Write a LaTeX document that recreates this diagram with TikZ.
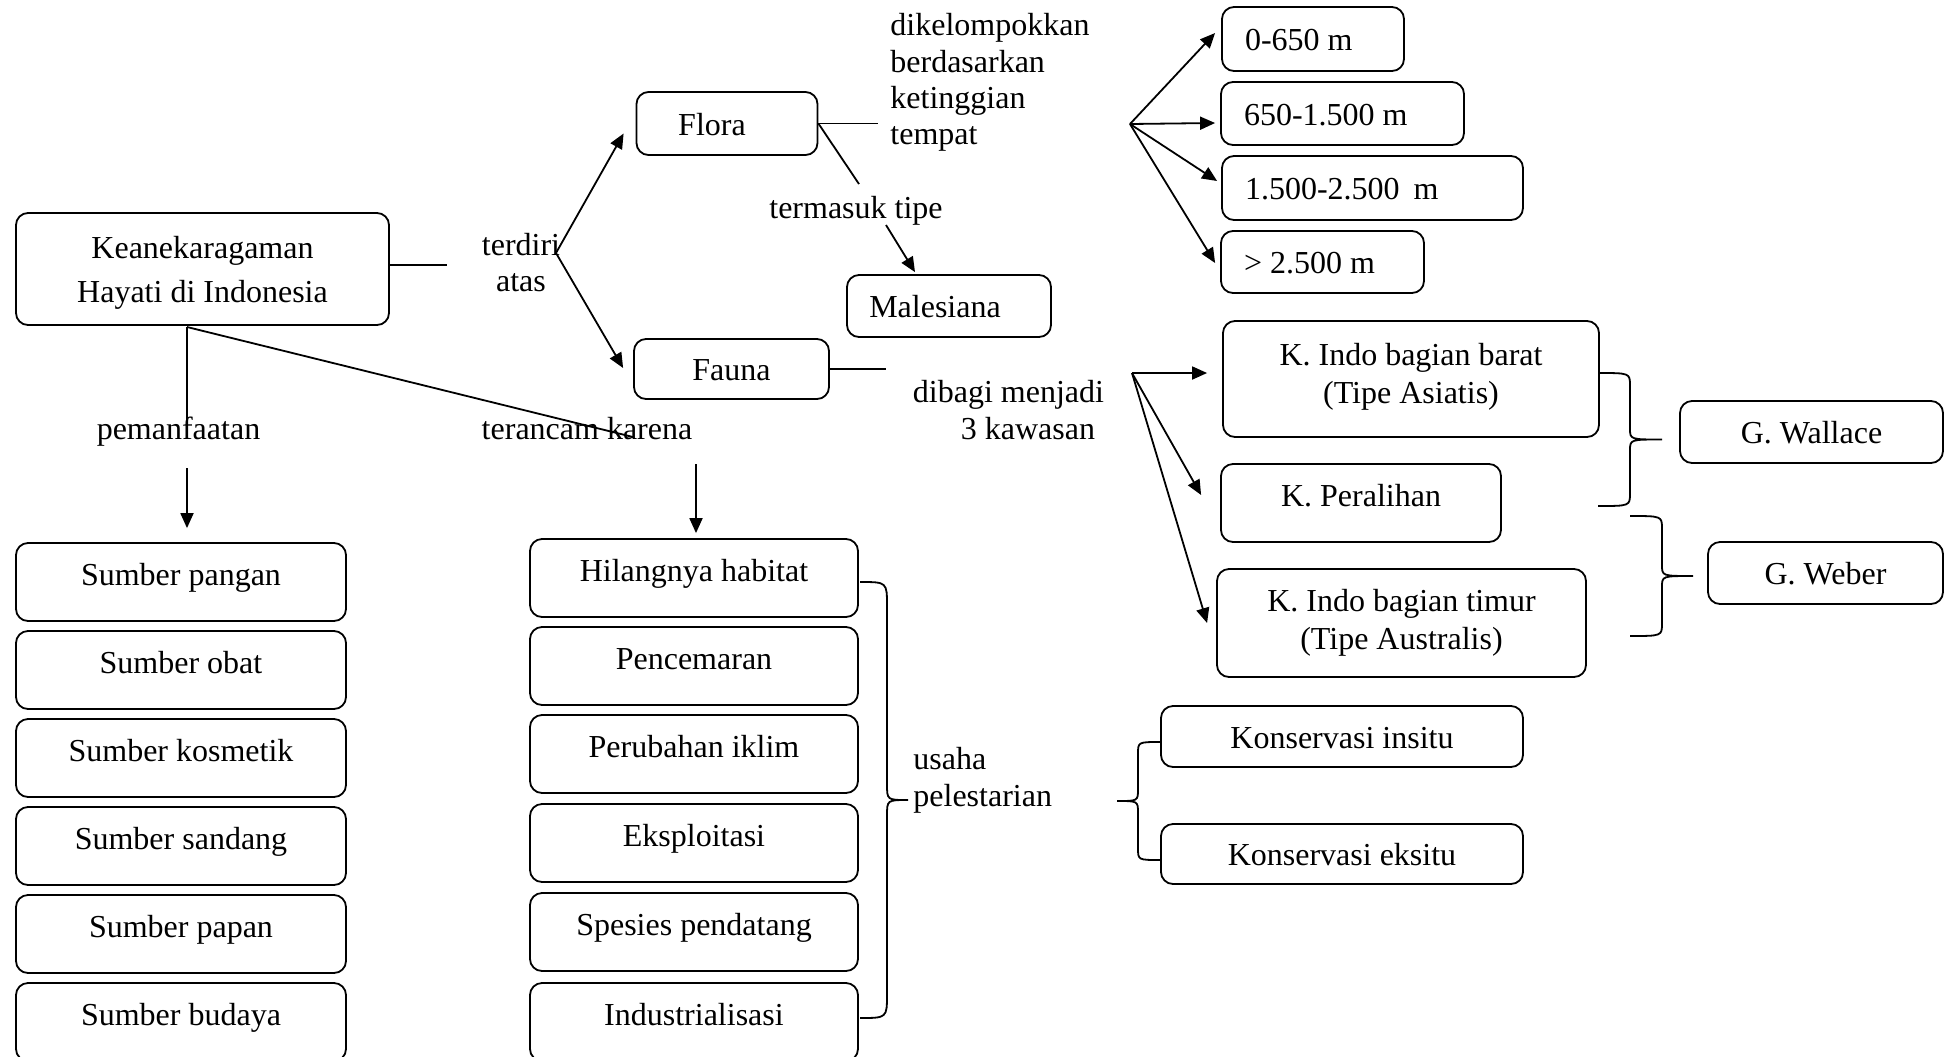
\documentclass[tikz,border=0pt]{standalone}
\usepackage{fontspec}
\setmainfont{Liberation Serif}
\usetikzlibrary{arrows.meta,calc}

% curly brace: #1 end x, #2 spine x, #3 tip x, #4 top y, #5 bottom y,
% #6 end curve length, #7 tip curve length
\newcommand\bracepath[7]{%
  \draw[ln] (#1,#4) .. controls (#2,#4) .. (#2,{#4+#6})
    -- (#2,{(#4+#5)/2-#7}) .. controls (#2,{(#4+#5)/2}) .. (#3,{(#4+#5)/2})
    .. controls (#2,{(#4+#5)/2}) .. (#2,{(#4+#5)/2+#7})
    -- (#2,{#5-#6}) .. controls (#2,#5) .. (#1,#5);}

\begin{document}
\begin{tikzpicture}[x=0.5pt,y=-0.5pt,
  every node/.style={font=\fontsize{16}{18.4}\selectfont},
  ln/.style={line width=0.9pt},
  arr/.style={ln, -{Triangle[length=7.5pt,width=6.5pt]}},
  box/.style={draw, line width=0.9pt, rounded corners=6pt, inner sep=0pt},
  sz/.style 2 args={minimum width=#1*0.5pt, minimum height=#2*0.5pt},
  % single-line text: baseline a little below the middle
  lowA/.style={text height=9.6pt, text depth=6.4pt},
  % single-line text: baseline well below the middle
  lowB/.style={text height=13.8pt, text depth=2.2pt},
  lbox/.style={box, lowB, align=flush left, inner xsep=11.5pt},
  lbl/.style={inner sep=0pt},
]
\useasboundingbox (0,0) rectangle (1945,1056);

% main topic
\node[box, sz={373}{112}, align=center, font=\fontsize{16}{22}\selectfont] (kh) at (202.5,269) {\rule{0pt}{15.4pt}Keanekaragaman\\Hayati di Indonesia};

% flora / fauna
\node[box, lowB, sz={181}{63}] (flora) at (727,123.5) {Flora\kern15pt};
\node[box, lowB, sz={195}{60}] (fauna) at (731.5,369) {Fauna};
\node[box, lowB, sz={204}{62}] (malesiana) at (949,306) {Malesiana\kern14pt};

% altitude zones
\node[lbox, text width=68pt, minimum height=32pt] (h1) at (1313,39) {0-650 m};
\node[lbox, text width=98.5pt, minimum height=31.5pt] (h2) at (1342.5,113.5) {650-1.500 m};
\node[lbox, text width=127.5pt, minimum height=32pt] (h3) at (1372.5,188) {1.500-2.500\ \kern3pt m};
\node[lbox, text width=78.5pt, minimum height=31pt] (h4) at (1322.5,262) {> 2.500 m};

% fauna regions
\node[box, sz={376}{116}, align=center, font=\fontsize{16}{19}\selectfont] (kb) at (1411,379) {K. Indo bagian barat\\(Tipe Asiatis)\rule[-6pt]{0pt}{6pt}};
\node[box, lowA, sz={280}{78}] (kp) at (1361,503) {K. Peralihan};
\node[box, sz={369}{108}, align=center, font=\fontsize{16}{19}\selectfont] (kt) at (1401.5,623) {K. Indo bagian timur\\(Tipe Australis)};
\node[box, lowB, sz={263}{62}] (gw) at (1811.5,432) {G. Wallace};
\node[box, lowB, sz={235}{62}] (gwe) at (1825.5,573) {G. Weber};

% conservation
\node[box, lowB, sz={362}{61}] (ki) at (1342,736.5) {Konservasi insitu};
\node[box, lowB, sz={362}{60}] (ke) at (1342,854) {Konservasi eksitu};

% uses
\node[box, lowA, sz={330}{78}] (sp1) at (181,582) {Sumber pangan};
\node[box, lowA, sz={330}{78}] (sp2) at (181,670) {Sumber obat};
\node[box, lowA, sz={330}{78}] (sp3) at (181,758) {Sumber kosmetik};
\node[box, lowA, sz={330}{78}] (sp4) at (181,846) {Sumber sandang};
\node[box, lowA, sz={330}{78}] (sp5) at (181,934) {Sumber papan};
\node[box, lowA, sz={330}{78}] (sp6) at (181,1022) {Sumber budaya};

% threats
\node[box, lowA, sz={328}{78}] (hb1) at (694,578) {Hilangnya habitat};
\node[box, lowA, sz={328}{78}] (hb2) at (694,666) {Pencemaran};
\node[box, lowA, sz={328}{78}] (hb3) at (694,754) {Perubahan iklim};
\node[box, lowA, sz={328}{78}] (hb4) at (694,843) {Eksploitasi};
\node[box, lowA, sz={328}{78}] (hb5) at (694,932) {Spesies pendatang};
\node[box, lowA, sz={328}{78}] (hb6) at (694,1022) {Industrialisasi};

% link labels
\node[lbl, anchor=north, align=center, font=\fontsize{16}{18}\selectfont] (terdiri) at (521,233) {terdiri\\atas};
\node[lbl, anchor=base] (termasuk) at (856,218.5) {termasuk tipe};
\node[lbl, anchor=north west, align=left, font=\fontsize{16}{18.2}\selectfont] (dk) at (890,13) {dikelompokkan\\berdasarkan\\ketinggian\\tempat};
\node[lbl, anchor=north, align=center, font=\fontsize{16}{18.5}\selectfont] (dibagi) at (1008.5,380) {dibagi menjadi\\\hspace*{19.5pt}3 kawasan};
\node[lbl, anchor=base] (pem) at (178.5,439.5) {pemanfaatan};
\node[lbl, anchor=base] (ter) at (587,439) {terancam karena};
\node[lbl, anchor=north west, align=left] (usaha) at (913,747) {usaha\\pelestarian};

% junction points
\coordinate (kh-r) at (447,265);
\coordinate (fork1) at (556,253);
\coordinate (flora-r) at (878,123.5);
\coordinate (tt-a) at (859,184);
\coordinate (tt-b) at (886,225);
\coordinate (fork2) at (1130,124);
\coordinate (fauna-r) at (886,369);
\coordinate (fork3) at (1132,373);
\coordinate (kh-b) at (187,327);
\coordinate (pem-end) at (187,426);
\coordinate (ter-end) at (633,437);
\coordinate (pem-arr) at (187,468);
\coordinate (ter-arr) at (696,464);

% connectors
\draw[ln] (kh.east |- kh-r) -- (kh-r);
\draw[arr] (fork1) -- ($(flora.west)+(-12,10)$);
\draw[arr] (fork1) -- ($(fauna.west)+(-10,-1)$);
\draw[ln] (flora.east) -- (flora-r);
\draw[ln] (flora.east) -- (tt-a);
\draw[arr] (tt-b) -- ($(malesiana.north)+(-34,-2)$);
\draw[arr] (fork2) -- ($(h1.west)+(-6,-6)$);
\draw[arr] (fork2) -- ($(h2.west)+(-5,9.5)$);
\draw[arr] (fork2) -- ($(h3.west)+(-4,-7)$);
\draw[arr] (fork2) -- ($(h4.west)+(-5,1)$);
\draw[ln] (fauna.east) -- (fauna-r);
\draw[arr] (fork3) -- ($(kb.west)+(-15,-6)$);
\draw[arr] (fork3) -- ($(kp.west)+(-19,-8)$);
\draw[arr] (fork3) -- ($(kt.west)+(-9,0)$);
\draw[ln] (kh-b) -- (pem-end);
\draw[ln] (kh-b) -- (ter-end);
\draw[arr] (pem-arr) -- ($(sp1.north)+(6,-14)$);
\draw[arr] (ter-arr) -- ($(hb1.north)+(2,-5)$);

% braces
\bracepath{860}{887}{908}{582}{1018}{24}{16}
\bracepath{1598}{1630}{1662}{373}{506}{13}{11}
\bracepath{1630}{1662}{1693}{516}{636}{13}{11}
\bracepath{1160}{1138}{1117}{742}{860}{12}{12}
\end{tikzpicture}
\end{document}
